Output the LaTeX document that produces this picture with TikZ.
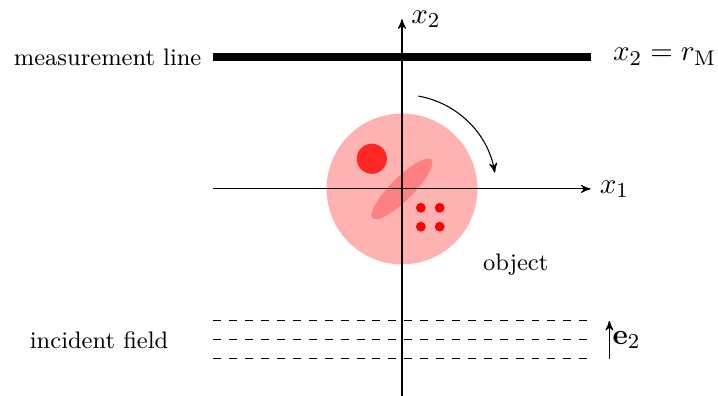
\documentclass[tikz,border=0pt]{standalone}
\usetikzlibrary{positioning,arrows}
\begin{document}
\begin{tikzpicture}[x=0.5cm,y=0.5cm,>=stealth',
  axis/.style={->},
  measline/.style={line width=3pt},
  incline/.style={dashed},
  mathlab/.style={font=\fontsize{10.8}{13}\selectfont},
  font=\fontsize{9}{11}\selectfont
]
\useasboundingbox (-10.66,-5.49) rectangle (8.38,5.01);

% object
\fill[red!30] (0,0) circle (2);
\fill[red!85] (-0.8,0.8) circle (0.4);
\fill[red!50, rotate=45] (0,0) ellipse (1.1 and 0.3);
\foreach \x in {0.5,1}
  \foreach \y in {-0.5,-1}
    \fill[red] (\x,\y) circle (0.13);
\node[right] (obj) at (1.9,-2) {object};

% axes
\coordinate (x1s) at (-5,0);
\coordinate (x1e) at (5,0);
\coordinate (x2s) at (0,-5.5);
\coordinate (x2e) at (0,4.5);
\draw[axis] (x1s) -- (x1e) node[right, mathlab] (x1) {$x_1$};
\draw[axis] (x2s) -- (x2e) node[right, mathlab] (x2) {$x_2$};

% rotation
\draw[->] (80:2.5) arc (80:10:2.5);

% measurement line
\coordinate (mls) at (-5,3.5);
\coordinate (mle) at (5,3.5);
\draw[measline] (mls) -- (mle);
\node[left=1pt of mls] (mlab) {measurement line};
\node[right=0.35 of mle, mathlab] (rlab) {$x_2 = r_\mathrm{M}$};

% incident field
\foreach \y in {-3.5,-4,-4.5}
  \draw[incline] (-5,\y) -- (5,\y);
\node[left] (inc) at (-5.95,-4) {incident field};
\coordinate (e2s) at (5.5,-4.5);
\coordinate (e2e) at (5.5,-3.5);
\draw[->] (e2s) -- node[right, inner sep=1pt, mathlab] (e2) {$\mathbf{e}_2$} (e2e);

\end{tikzpicture}
\end{document}
